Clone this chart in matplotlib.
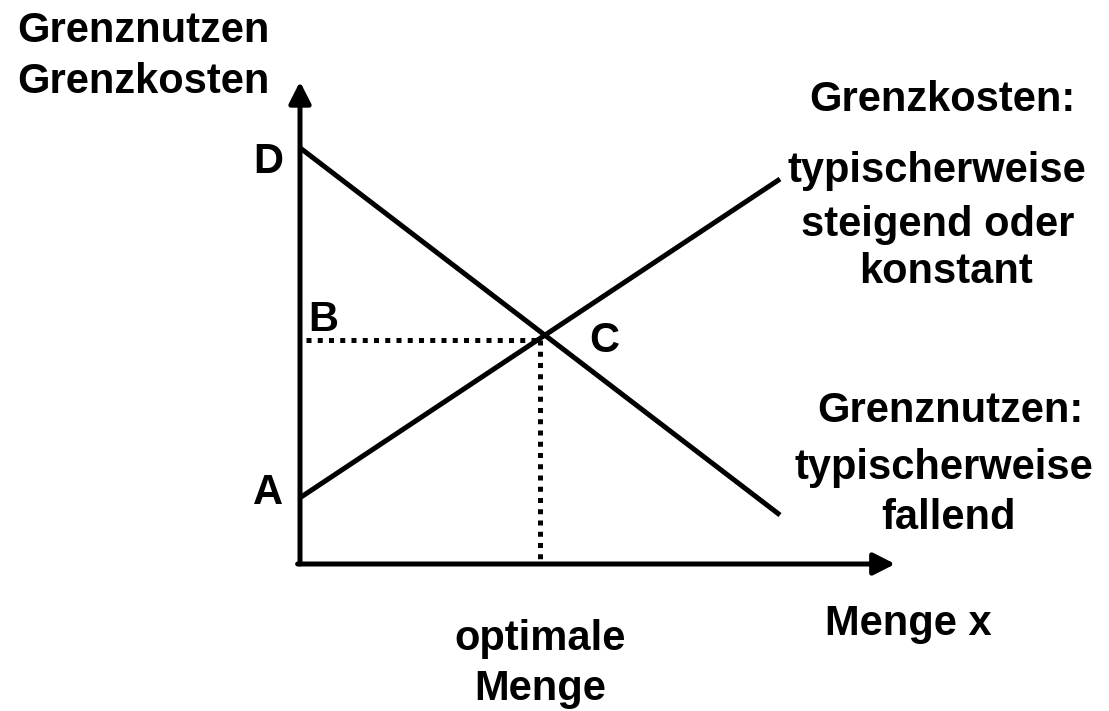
import matplotlib
matplotlib.use('Agg')
import matplotlib.pyplot as plt

plt.rcParams['font.family'] = ['Liberation Sans', 'DejaVu Sans']
plt.rcParams['font.weight'] = 'bold'

# values (units: quantity on x, money on y)
menge = [0, 10]
grenznutzen = [8.67, 1.02]   # falling, starts at D
grenzkosten = [1.38, 8.02]   # rising, starts at A
x_opt = 5.0
y_opt = 4.67
x_axis_end = 12.4
y_axis_end = 10.05

FS = 30
LW = 3.6

fig = plt.figure(figsize=(11.09, 7.11), dpi=100)
ax = fig.add_axes([0, 0, 1, 1])
# 48 px per unit, origin at pixel (300, 564)
ax.set_xlim(-300 / 48, 809 / 48)
ax.set_ylim(-147 / 48, 564 / 48)
ax.axis('off')

arrow = dict(arrowstyle='-|>,head_length=0.65,head_width=0.33', lw=LW,
             color='black', shrinkA=0, shrinkB=0, mutation_scale=20)
ax.annotate('', xy=(0, y_axis_end), xytext=(0, 0), arrowprops=arrow)
ax.annotate('', xy=(x_axis_end, 0), xytext=(-0.05, 0), arrowprops=arrow)

ax.plot(menge, grenznutzen, color='black', lw=LW, solid_capstyle='butt')
ax.plot(menge, grenzkosten, color='black', lw=LW, solid_capstyle='butt')

dots = (0, (1, 1.25))
ax.plot([0.12, x_opt], [y_opt, y_opt], color='black', lw=LW, linestyle=dots)
ax.plot([x_opt, x_opt], [y_opt, 0.05], color='black', lw=LW, linestyle=dots)

# point labels
ax.text(-0.67, grenznutzen[0] - 0.52, 'D', fontsize=FS, ha='center', va='baseline')
ax.text(-0.67, grenzkosten[0] - 0.13, 'A', fontsize=FS, ha='center', va='baseline')
ax.text(0.48, y_opt + 0.19, 'B', fontsize=FS, ha='center', va='baseline')
ax.text(x_opt + 1.33, y_opt - 0.25, 'C', fontsize=FS, ha='center', va='baseline')

def ftext(px, py, s, **kw):
    fig.text(px / 1109, 1 - py / 711, s, fontsize=FS, va='baseline', **kw)

ftext(17, 42, 'Grenznutzen', ha='left')
ftext(17, 93, 'Grenzkosten', ha='left')
ftext(942, 111, 'Grenzkosten:', ha='center')
ftext(937, 182, 'typischerweise', ha='center')
ftext(938, 236, 'steigend oder', ha='center')
ftext(946, 283, 'konstant', ha='center')
ftext(950, 422, 'Grenznutzen:', ha='center')
ftext(944, 479, 'typischerweise', ha='center')
ftext(948, 529, 'fallend', ha='center')
ftext(908, 635, 'Menge x', ha='center')
ftext(540, 650, 'optimale', ha='center')
ftext(540, 700, 'Menge', ha='center')

fig.savefig('out.png', dpi=100)
